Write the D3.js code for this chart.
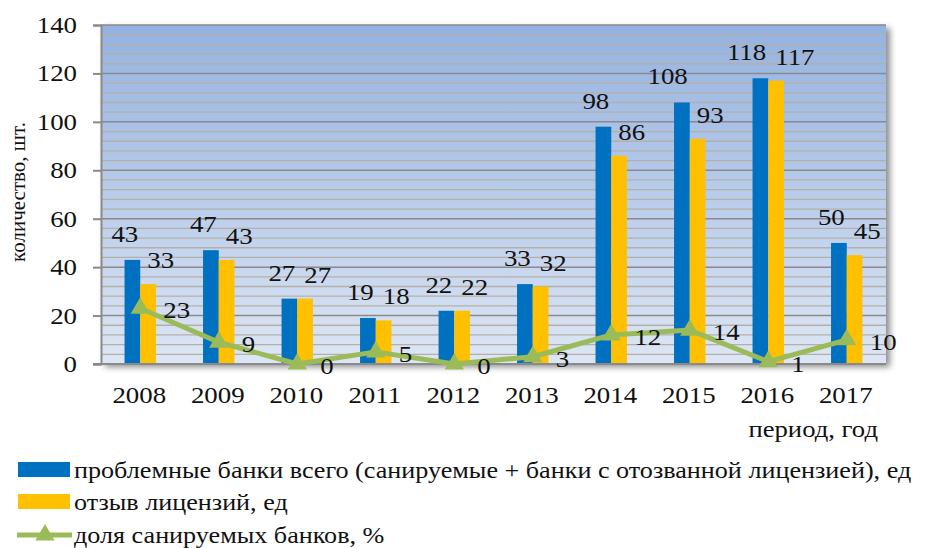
<!DOCTYPE html>
<html><head><meta charset="utf-8">
<script src="https://cdn.jsdelivr.net/npm/d3@7"></script>
<style>body{margin:0;background:#fff}svg{display:block}text{font-family:"Liberation Serif","Times New Roman",serif;fill:#111}</style>
</head><body><svg id="c" width="928" height="548"></svg>
<script>
const years = ["2008","2009","2010","2011","2012","2013","2014","2015","2016","2017"];
const problemBanks = [43,47,27,19,22,33,98,108,118,50];
const revoked = [33,43,27,18,22,32,86,93,117,45];
const sanatedShare = [23,9,0,5,0,3,12,14,1,10];
const yTicks = [0,20,40,60,80,100,120,140];
const seriesNames = ["проблемные банки всего (санируемые + банки с отозванной лицензией), ед","отзыв лицензий, ед","доля санируемых банков, %"];
const colors = ["#0070c0","#ffc000","#9bbb59"];

const svg = d3.select("#c");
const L=101,R=886,T=25,B=364;
const x = d3.scaleBand().domain(years).range([L,R]);
const y = d3.scaleLinear().domain([0,140]).range([B,T]);
const bw = x.bandwidth()*0.2;
const cx = d => x(d)+x.bandwidth()/2;
const SX = 1.12;

function txt(parent, px, py, str, anchor, size, sx){
  return parent.append("text")
    .attr("transform",`translate(${px},${py}) scale(${sx||SX},1)`)
    .attr("text-anchor",anchor||"start")
    .style("font-size",(size||24)+"px")
    .text(str);
}

const defs = svg.append("defs");
const g = defs.append("linearGradient").attr("id","bg").attr("x1",0).attr("y1",0).attr("x2",0).attr("y2",1);
g.append("stop").attr("offset","0%").attr("stop-color","#94b2e1");
g.append("stop").attr("offset","100%").attr("stop-color","#dde6f4");
const f = defs.append("filter").attr("id","sh").attr("x","-5%").attr("y","-10%").attr("width","115%").attr("height","125%");
f.append("feDropShadow").attr("dx",4).attr("dy",3).attr("stdDeviation",3).attr("flood-color","#000").attr("flood-opacity",0.45);

svg.append("rect").attr("x",L).attr("y",T).attr("width",R-L).attr("height",B-T).attr("fill","url(#bg)").attr("filter","url(#sh)");

// minor grid
const minor = d3.range(0,141,4).filter(v=>v%20!==0);
svg.append("g").selectAll("line").data(minor).join("line")
  .attr("x1",L).attr("x2",R).attr("y1",d=>y(d)).attr("y2",d=>y(d))
  .attr("stroke","#b4b0a8").attr("stroke-width",1.3);
// major grid
svg.append("g").selectAll("line").data(yTicks.filter(v=>v>0)).join("line")
  .attr("x1",L).attr("x2",R).attr("y1",d=>y(d)).attr("y2",d=>y(d))
  .attr("stroke","#8a8a8a").attr("stroke-width",1.5);

// y axis
const ya = svg.append("g").attr("transform",`translate(${L},0)`)
  .call(d3.axisLeft(y).tickValues(yTicks).tickSize(8));
ya.select(".domain").attr("stroke","#8a8a8a").attr("stroke-width",2);
ya.selectAll(".tick line").attr("stroke","#8a8a8a").attr("stroke-width",2);
ya.selectAll(".tick text").remove();
const yl = svg.append("g");
yTicks.forEach(v => txt(yl, L-24, y(v)+8, v, "end", 24));

// bars
const bars = svg.append("g");
bars.selectAll(".b1").data(years).join("rect")
  .attr("x",d=>cx(d)-bw).attr("width",bw)
  .attr("y",(d,i)=>y(problemBanks[i])).attr("height",(d,i)=>B-y(problemBanks[i])).attr("fill",colors[0]);
bars.selectAll(".b2").data(years).join("rect")
  .attr("x",d=>cx(d)).attr("width",bw)
  .attr("y",(d,i)=>y(revoked[i])).attr("height",(d,i)=>B-y(revoked[i])).attr("fill",colors[1]);

// x axis line
svg.append("line").attr("x1",L-8).attr("x2",R).attr("y1",B).attr("y2",B).attr("stroke","#8a8a8a").attr("stroke-width",2);

// x labels
const xa = svg.append("g").attr("transform",`translate(0,${B})`)
  .call(d3.axisBottom(x).tickSize(0));
xa.select(".domain").remove();
xa.selectAll(".tick text").remove();
const xl = svg.append("g");
years.forEach(d => txt(xl, cx(d)-1, 403, d, "middle", 24));

// line
const line = d3.line().x((d,i)=>cx(years[i])).y(d=>y(d));
svg.append("path").datum(sanatedShare).attr("d",line).attr("fill","none").attr("stroke",colors[2]).attr("stroke-width",5).attr("stroke-linejoin","round");
const tri = d3.symbol().type(d3.symbolTriangle).size(160);
svg.append("g").selectAll("path").data(sanatedShare).join("path")
  .attr("d",tri).attr("fill",colors[2])
  .attr("transform",(d,i)=>`translate(${cx(years[i])},${y(d)})`);

// value labels
const lbl = svg.append("g");
problemBanks.forEach((v,i)=> txt(lbl, cx(years[i])-2, y(v)-18, v, "end", 24));
revoked.forEach((v,i)=> txt(lbl, cx(years[i])+7, y(v)-16, v, "start", 24));
sanatedShare.forEach((v,i)=> txt(lbl, cx(years[i])+23, y(v)+10, v, "start", 24));

// axis titles
svg.append("text").attr("transform","translate(25,192) rotate(-90)").attr("text-anchor","middle")
  .style("font-size","21px").text("количество, шт.");
txt(svg, 878, 437, "период, год", "end", 23, 1.16);

// legend
const lg = svg.append("g");
const ly = [470,502,535];
lg.append("rect").attr("x",18).attr("y",ly[0]-8).attr("width",52).attr("height",15).attr("fill",colors[0]);
lg.append("rect").attr("x",18).attr("y",ly[1]-8).attr("width",52).attr("height",15).attr("fill",colors[1]);
lg.append("line").attr("x1",17).attr("x2",72).attr("y1",ly[2]).attr("y2",ly[2]).attr("stroke",colors[2]).attr("stroke-width",5);
lg.append("path").attr("d",tri).attr("fill",colors[2]).attr("transform",`translate(45,${ly[2]})`);
seriesNames.forEach((s,i)=> txt(lg, 74, ly[i]+8, s, "start", 23, 1.137));
</script></body></html>
